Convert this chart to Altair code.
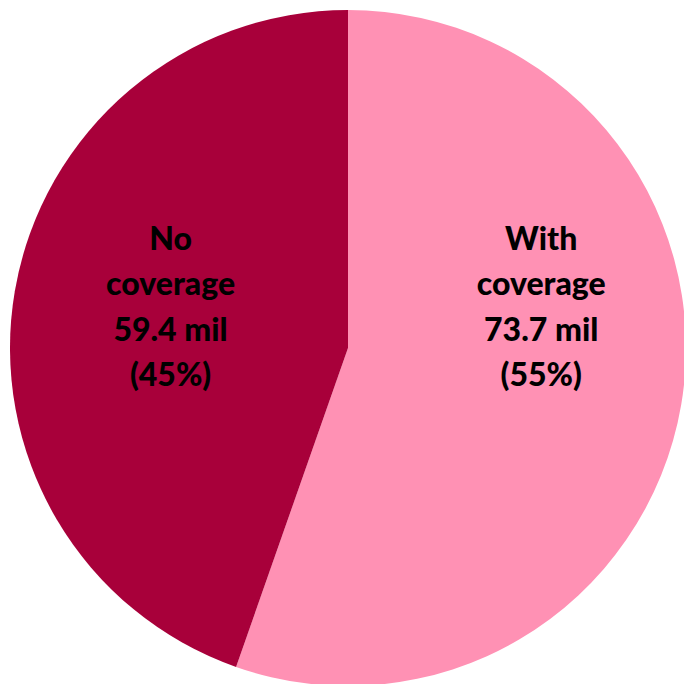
import altair as alt
import pandas as pd

categories = ["With coverage", "No coverage"]
values = [73.7, 59.4]
colors = ["#FF91B4", "#A8003A"]

total = sum(values)
rows = []
for i, (c, v) in enumerate(zip(categories, values)):
    pct = round(v / total * 100)
    lines = c.split(" ") + [f"{v} mil", f"({pct}%)"]
    rows.append({"cat": c, "value": v, "idx": i, "label": lines})
df = pd.DataFrame(rows)

base = alt.Chart(df).encode(
    theta=alt.Theta("value:Q", stack=True),
    order=alt.Order("idx:Q"),
)

pie = base.mark_arc(radius=338, stroke=None).encode(
    color=alt.Color("cat:N", scale=alt.Scale(domain=categories, range=colors), legend=None)
)

def label_layer(cat, radius, dy):
    return base.mark_text(
        radius=radius, dy=dy, font="Lato", fontWeight=900, fontSize=32,
        lineHeight=45.5, align="center", baseline="middle", color="black",
    ).encode(
        text=alt.condition(alt.datum.cat == cat, alt.Text("label:N"), alt.value(""))
    )

chart = alt.layer(
    pie,
    label_layer("With coverage", 196, -141),
    label_layer("No coverage", 180, -78),
).properties(
    width=672, height=672,
    padding={"left": 12, "top": 12, "right": 0, "bottom": 0},
    autosize=alt.AutoSizeParams(type="none"),
    background="white",
).configure_view(stroke=None)

chart.save("out.html", embed_options={"renderer": "svg", "actions": False})
